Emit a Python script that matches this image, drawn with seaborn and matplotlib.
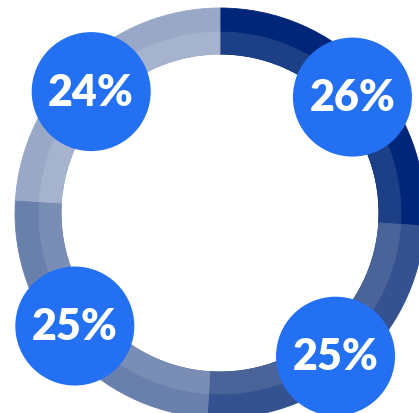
import numpy as np
import matplotlib
matplotlib.use("Agg")
import matplotlib.pyplot as plt
import seaborn as sns

sns.set_theme(style="white")
plt.rcParams['font.family'] = ['Lato', 'DejaVu Sans']

# Share of each segment, clockwise from twelve o'clock
labels = ["26%", "25%", "25%", "24%"]
shares = [26, 25, 25, 24]
outer_colors = ["#00267a", "#34528f", "#6a80ac", "#98a8c6"]
inner_colors = ["#1c3f85", "#4a6499", "#7a8eb5", "#a6b3ce"]
badge_color = "#2470f2"

W, H = 419, 413
fig = plt.figure(figsize=(W / 100, H / 100), dpi=100)
ax = fig.add_axes([0, 0, 1, 1])
ax.set_xlim(0, W)
ax.set_ylim(0, H)
ax.set_aspect("equal")
ax.axis("off")

cx, cy = 220, 200
r_out, r_mid, r_in = 205, 181, 159

# Outer band spans the full ring; the lighter inner band is laid over it
wedges, _ = ax.pie(shares, colors=outer_colors, radius=r_out, center=(cx, cy),
                   startangle=90, counterclock=False,
                   wedgeprops=dict(width=r_out - r_in, linewidth=0.6))
for w in wedges:
    w.set_edgecolor(w.get_facecolor())
wedges, _ = ax.pie(shares, colors=inner_colors, radius=r_mid, center=(cx, cy),
                   startangle=90, counterclock=False,
                   wedgeprops=dict(width=r_mid - r_in, linewidth=0.6))
for w in wedges:
    w.set_edgecolor(w.get_facecolor())
ax.set_xlim(0, W)
ax.set_ylim(0, H)

# Badges sit on the ring near the middle of each segment
badge_radius = [176, 184, 184, 177]
badge_shift = [2.0, 2.5, 3.5, -3.5]
cum = np.cumsum([0] + shares)
for i, lab in enumerate(labels):
    mid = (cum[i] + cum[i + 1]) / 2 / 100 * 360 + badge_shift[i]
    th = np.deg2rad(mid)
    bx = cx + badge_radius[i] * np.sin(th)
    by = cy + badge_radius[i] * np.cos(th)
    ax.add_patch(plt.Circle((bx, by), 59.5, color=badge_color, zorder=5, lw=0))
    ax.text(bx, by - 1, lab, color="white", fontsize=31, fontweight="heavy",
            ha="center", va="center", zorder=6)

fig.savefig("out.png", dpi=100)
